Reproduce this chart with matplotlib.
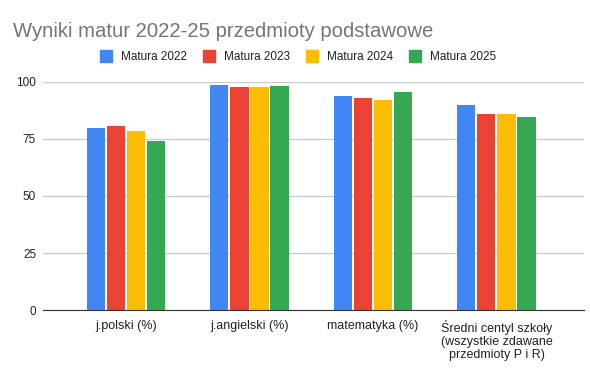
import matplotlib.pyplot as plt
import numpy as np

categories = ["j.polski (%)", "j.angielski (%)", "matematyka (%)",
              "Średni centyl szkoły\n(wszystkie zdawane\nprzedmioty P i R)"]
series = ["Matura 2022", "Matura 2023", "Matura 2024", "Matura 2025"]
m2022 = [80.0, 98.7, 93.9, 89.9]
m2023 = [80.7, 97.8, 93.0, 86.0]
m2024 = [78.5, 97.8, 92.1, 86.0]
m2025 = [74.1, 98.2, 95.6, 84.6]
values = [m2022, m2023, m2024, m2025]
colors = ["#4285F4", "#EA4335", "#FBBC04", "#34A853"]

plt.rcParams["font.family"] = ["Liberation Sans", "DejaVu Sans"]

fig = plt.figure(figsize=(5.9, 3.68), dpi=100)
ax = fig.add_axes([0.0729, 0.1576, 0.917, 0.6196])

x = np.arange(len(categories))
bw = 0.146
step = 0.162
for i, (name, vals) in enumerate(zip(series, values)):
    ax.bar(x + (i - 1.5) * step, vals, width=bw, color=colors[i], label=name, zorder=3)

ax.set_xlim(-0.672, 3.709)
ax.set_ylim(0, 100)
ax.set_yticks([0, 25, 50, 75, 100])
ax.yaxis.grid(True, color="#cccccc", linewidth=1, zorder=0)
ax.set_axisbelow(True)
for s in ["top", "right", "left"]:
    ax.spines[s].set_visible(False)
ax.spines["bottom"].set_color("#333333")
ax.spines["bottom"].set_zorder(4)
ax.tick_params(axis="both", length=0, colors="#222222")
ax.tick_params(axis="y", labelsize=8.5, pad=5)
ax.tick_params(axis="x", labelsize=9, pad=7)
ax.set_xticks(x)
ax.set_xticklabels(categories, linespacing=1.1)

fig.text(0.022, 0.9, "Wyniki matur 2022-25 przedmioty podstawowe",
         fontsize=14.6, color="#757575", va="baseline")

handles = [plt.Line2D([], [], marker="s", linestyle="none", markersize=8,
                      markerfacecolor=c, markeredgecolor=c) for c in colors]
fig.legend(handles, series, loc="center", bbox_to_anchor=(0.505, 0.844), ncol=4,
           frameon=False, fontsize=8.5, handlelength=1.0, handletextpad=0.73,
           columnspacing=1.4, labelcolor="#222222", borderaxespad=0, borderpad=0)

fig.savefig("out.png", dpi=100)
